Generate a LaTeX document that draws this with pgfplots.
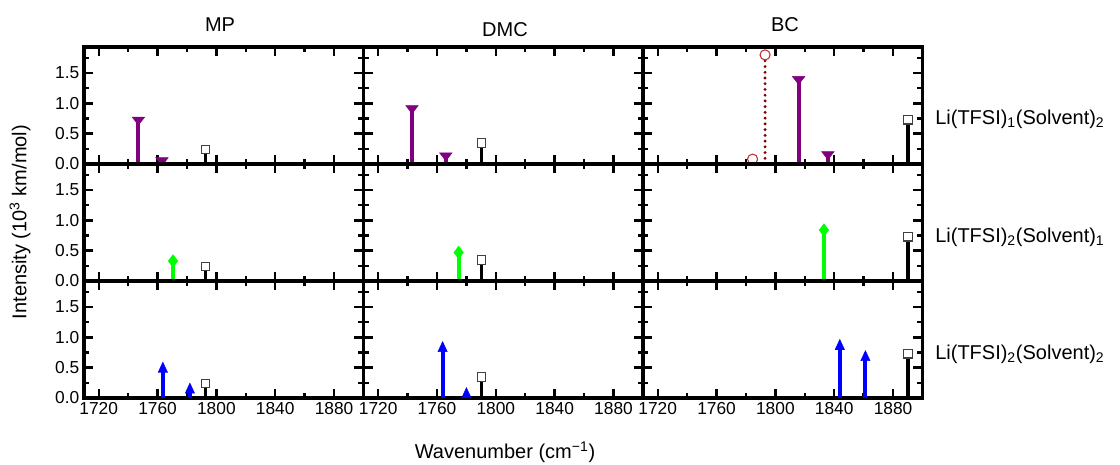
\documentclass[border=0pt]{standalone}
\usepackage{fontspec}
\setmainfont{Liberation Sans}
\usepackage{pgfplots}
\pgfplotsset{compat=1.18}
\usetikzlibrary{plotmarks}

\definecolor{purp}{HTML}{800080}
\definecolor{grn}{HTML}{00FF00}
\definecolor{blu}{HTML}{0000FF}
\definecolor{wine}{HTML}{800000}
\definecolor{circ}{HTML}{C03030}

% 1 px of the reference = 0.75pt
\pgfplotsset{
  panel/.style={
    scale only axis, width=209.6pt, height=87.75pt,
    xmin=1710, xmax=1900, ymin=0, ymax=1.93,
    xtick={1720,1760,...,1880}, minor xtick={1740,1780,1820,1860},
    ytick={0,0.5,1,1.5}, minor ytick={0.25,0.75,1.25,1.75},
    xticklabels={}, yticklabels={},
    tick align=inside, major tick length=7pt, minor tick length=4pt,
    axis line style={line width=2.6pt},
    every tick/.style={black, line width=1.8pt},
    tick label style={font=\fontsize{13}{15}\selectfont},
    clip=false, anchor=north west,
  },
  ylab/.style={yticklabels={0.0,0.5,1.0,1.5}},
  xlab/.style={xticklabels={1720,1760,1800,1840,1880}},
  pstem/.style={ycomb, draw=purp, line width=3pt, mark=triangle*, mark size=4pt,
    mark options={fill=purp, draw=purp, line width=0.4pt, rotate=180, xscale=1.35}},
  gstem/.style={ycomb, draw=grn, line width=3pt, mark=diamond*, mark size=4.7pt,
    mark options={fill=grn, draw=grn, line width=0.4pt}},
  bstem/.style={ycomb, draw=blu, line width=3pt, mark=triangle*, mark size=5pt,
    mark options={fill=blu, draw=blu, line width=0.4pt, xscale=0.8}},
  sstem/.style={ycomb, draw=black, line width=2.6pt, mark=square*, mark size=3.2pt,
    mark options={fill=white, draw=black!75, line width=0.8pt}},
  cstem/.style={ycomb, draw=wine, line width=2.4pt, dash pattern=on 0pt off 4.3pt, line cap=round,
    mark=*, mark size=3.8pt, mark options={solid, fill=white, draw=circ, line width=0.8pt}},
}

\begin{document}
\begin{tikzpicture}
\useasboundingbox (0,0) rectangle (840pt,-348pt);

% ---- row 1: Li(TFSI)1(Solvent)2
\begin{axis}[panel, ylab, at={(63pt,-35.25pt)}]
\addplot[pstem] coordinates {(1747,0.73) (1763,0.06)};
\addplot[sstem] coordinates {(1792.5,0.24)};
\end{axis}
\begin{axis}[panel, at={(272.6pt,-35.25pt)}]
\addplot[pstem] coordinates {(1743,0.92) (1766,0.14)};
\addplot[sstem] coordinates {(1790.3,0.35)};
\end{axis}
\begin{axis}[panel, at={(482.25pt,-35.25pt)}]
\addplot[cstem] coordinates {(1784.5,0.08) (1793,1.80)};
\addplot[pstem] coordinates {(1815.8,1.40) (1835.7,0.16)};
\addplot[sstem] coordinates {(1890,0.73)};
\end{axis}

% ---- row 2: Li(TFSI)2(Solvent)1
\begin{axis}[panel, ylab, at={(63pt,-123pt)}]
\addplot[gstem] coordinates {(1770.5,0.33)};
\addplot[sstem] coordinates {(1792.5,0.24)};
\end{axis}
\begin{axis}[panel, at={(272.6pt,-123pt)}]
\addplot[gstem] coordinates {(1774.7,0.47)};
\addplot[sstem] coordinates {(1790.3,0.35)};
\end{axis}
\begin{axis}[panel, at={(482.25pt,-123pt)}]
\addplot[gstem] coordinates {(1833,0.84)};
\addplot[sstem] coordinates {(1890,0.73)};
\end{axis}

% ---- row 3: Li(TFSI)2(Solvent)2
\begin{axis}[panel, ylab, xlab, at={(63pt,-210.75pt)}]
\addplot[bstem] coordinates {(1763.6,0.48) (1782,0.135)};
\addplot[sstem] coordinates {(1792.5,0.24)};
\end{axis}
\begin{axis}[panel, xlab, at={(272.6pt,-210.75pt)}]
\addplot[bstem] coordinates {(1763.8,0.82) (1780,0.06)};
\addplot[sstem] coordinates {(1790.3,0.35)};
\end{axis}
\begin{axis}[panel, xlab, at={(482.25pt,-210.75pt)}]
\addplot[bstem] coordinates {(1843.8,0.855) (1861.2,0.67)};
\addplot[sstem] coordinates {(1890,0.73)};
\end{axis}

% ---- texts
\begin{scope}[every node/.style={font=\fontsize{15}{18}\selectfont, inner sep=0pt}]
\node at (165pt,-18.75pt) {MP};
\node at (378.75pt,-22.5pt) {DMC};
\node at (588.75pt,-18.75pt) {BC};
\node[rotate=90] at (15pt,-166.5pt) {Intensity (10\textsuperscript{3} km/mol)};
\node at (378.75pt,-339pt) {Wavenumber (cm\textsuperscript{−1})};
\node[anchor=base west] at (701.25pt,-93pt) {Li(TFSI)\textsubscript{1}(Solvent)\textsubscript{2}};
\node[anchor=base west] at (701.25pt,-181.5pt) {Li(TFSI)\textsubscript{2}(Solvent)\textsubscript{1}};
\node[anchor=base west] at (701.25pt,-269.25pt) {Li(TFSI)\textsubscript{2}(Solvent)\textsubscript{2}};
\end{scope}
\end{tikzpicture}
\end{document}
